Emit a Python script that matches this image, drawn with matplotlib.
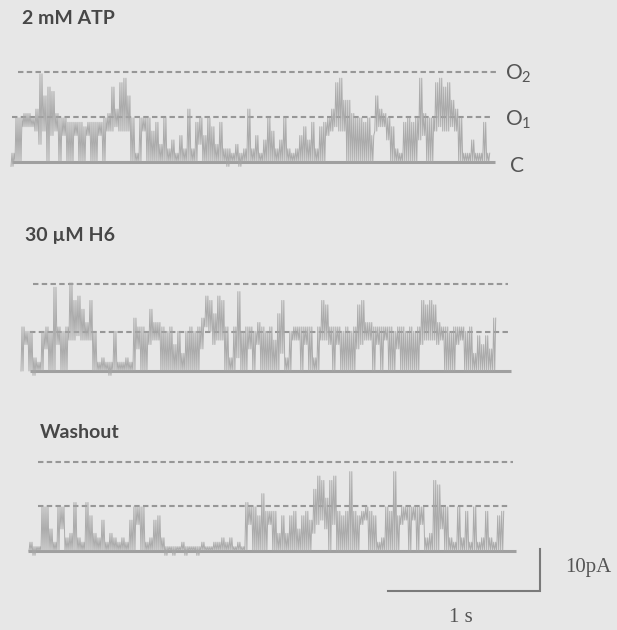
import numpy as np
import matplotlib
matplotlib.use("Agg")
import matplotlib.pyplot as plt

plt.rcParams['font.family'] = ['Lato', 'DejaVu Sans']

# Single-channel current, one value pair per 26 ms bin:
# lowest and highest excursion in tenths of the unitary opening (0 = closed C, 10 = O1, 20 = O2)
atp_lo = [-1, 0, 0, 8, 8, 8, 7, 4, 7, 0, 6, 7, 0, 6, 0, 0, 6, 0, 0, 6,
          0, 0, 6, 0, 7, 7, 8, 7, 7, 7, 0, 0, 0, 7, 0, 0, 0, 0, 0, 0,
          0, 0, 0, 0, 0, 0, 0, 4, 0, 0, 0, 0, 0, 0, -1, 0, 0, -1, 0, 0,
          0, 0, 0, 0, 0, 0, 0, 0, 0, 0, 0, 0, 0, 0, 0, 0, 0, 0, 0, 6,
          7, 8, 7, 7, 0, 0, 0, 0, 0, 0, 0, 7, 8, 8, 5, 0, 0, 0, 0, 0,
          0, 0, 5, 6, 0, 0, 7, 8, 7, 7, 8, 7, 0, 0, 0, 0, 0, 0, 0, 0]
atp_hi = [2, 10, 10, 11, 11, 10, 12, 20, 15, 17, 16, 11, 10, 10, 9, 9, 9, 9, 8, 9,
          9, 9, 9, 10, 11, 17, 12, 18, 19, 15, 10, 2, 10, 10, 10, 7, 9, 4, 10, 3,
          5, 2, 6, 3, 12, 3, 9, 10, 6, 10, 8, 4, 9, 3, 3, 2, 4, 2, 3, 12,
          3, 6, 2, 5, 10, 7, 3, 5, 10, 3, 2, 3, 6, 8, 5, 9, 3, 8, 9, 10,
          12, 18, 19, 14, 14, 11, 10, 10, 9, 10, 6, 15, 12, 11, 10, 8, 3, 2, 9, 10,
          9, 10, 19, 11, 10, 10, 18, 19, 17, 18, 14, 12, 10, 2, 2, 5, 2, 2, 9, 2]

h6_lo = [0, 6, 0, -1, 0, 0, 5, 0, 0, 6, 0, 0, 7, 7, 8, 7, 7, 7, 0, 0,
         0, 0, -1, 0, 0, 0, 0, 0, 0, 5, 0, 0, 6, 7, 7, 0, 0, 0, 0, 0,
         0, 0, 0, 0, 0, 5, 10, 9, 6, 7, 7, 0, 0, 0, 3, 0, 0, 5, 0, 6,
         0, 0, 0, 0, 0, 4, 0, 0, 7, 7, 0, 6, 0, 0, 0, 7, 7, 6, 0, 6,
         0, 0, 0, 0, 5, 6, 7, 7, 0, 6, 0, 7, 0, 0, 5, 0, 0, 0, 0, 0,
         6, 7, 7, 7, 6, 7, 0, 0, 0, 6, 7, 0, 0, 0, 0, 0, 0, 0, 0]
h6_hi = [10, 9, 9, 3, 2, 9, 10, 9, 19, 10, 9, 10, 20, 16, 17, 14, 11, 16, 9, 2,
         3, 2, 2, 9, 2, 2, 3, 2, 12, 10, 10, 9, 14, 11, 11, 10, 9, 10, 6, 9,
         4, 9, 10, 9, 10, 12, 17, 16, 13, 17, 16, 10, 3, 10, 18, 9, 10, 10, 9, 11,
         10, 9, 10, 7, 13, 16, 3, 9, 10, 10, 10, 10, 10, 3, 10, 16, 15, 10, 10, 10,
         9, 10, 9, 10, 15, 16, 11, 11, 10, 10, 10, 10, 10, 9, 10, 10, 9, 10, 9, 10,
         16, 15, 16, 15, 11, 10, 10, 9, 10, 10, 10, 9, 10, 4, 8, 6, 8, 5, 12]

wash_lo = [0, -1, 0, 0, 0, 0, 0, 0, 5, 0, 0, 0, 0, 0, 0, 0, 0, 0, 0, 0,
           0, 0, 0, 0, 0, 0, 0, 6, 0, 0, 0, 0, 0, 0, -1, 0, -1, 0, 0, -1,
           0, 0, -1, 0, 0, 0, 0, 0, 0, 0, 0, 0, 0, 0, 0, 6, 0, 0, 0, 0,
           6, 0, 0, 0, 0, 0, 0, 0, 0, 0, 0, 4, 6, 7, 5, 0, 6, 0, 0, 0,
           0, 0, 0, 6, 7, 0, 0, 0, 0, 0, 0, 0, 0, 6, 7, 0, 7, 0, 6, 0,
           0, 0, 0, 5, 0, 0, 0, 0, 0, 0, 0, 0, 0, 0, 0, 0, 0, 0, 0]
wash_hi = [2, 1, 1, 10, 10, 5, 2, 10, 10, 3, 4, 11, 3, 2, 11, 8, 4, 3, 7, 2,
           4, 3, 2, 3, 2, 7, 10, 10, 10, 2, 3, 7, 8, 3, 1, 1, 1, 1, 2, 1,
           1, 1, 1, 2, 1, 1, 2, 2, 3, 2, 3, 1, 2, 1, 11, 10, 10, 8, 13, 9,
           9, 9, 4, 8, 4, 8, 9, 5, 8, 9, 7, 14, 17, 16, 12, 16, 17, 9, 8, 9,
           18, 9, 8, 9, 10, 9, 8, 2, 3, 10, 9, 18, 8, 10, 10, 10, 10, 10, 10, 3,
           4, 16, 15, 10, 10, 3, 2, 10, 3, 9, 2, 10, 2, 3, 9, 3, 2, 8, 9]

titles = ["2 mM ATP", "30 \u00b5M H6", "Washout"]
o1_levels = [10.6, 9.4, 10.6]      # dashed O1 reference level, pA
o2_levels = [21.5, 20.6, 21.2]     # dashed O2 reference level, pA
state_labels = ["$\\mathregular{O_2}$", "$\\mathregular{O_1}$", "C"]

UNIT_PA = 10.5     # unitary current, pA
DT = 0.0263        # bin duration, s
SCALE_PA = 10      # vertical scale bar, pA
SCALE_S = 1        # horizontal scale bar, s

W, H = 617, 630
PX_PER_S = 152.0
PX_PER_PA = 4.2


def sx(px):
    return px / PX_PER_S


def sy(py):
    return (H - py) / PX_PER_PA


BG = '#e7e7e7'
TRACE = '#a5a5a5'
DASH = '#979797'
TEXT = '#474747'

fig = plt.figure(figsize=(W / 100, H / 100), dpi=100)
fig.patch.set_facecolor(BG)
ax = fig.add_axes([0, 0, 1, 1])
ax.set_facecolor(BG)
ax.set_xlim(0, W / PX_PER_S)
ax.set_ylim(0, H / PX_PER_PA)
ax.axis('off')

# panel layout: title position, closed-level row, trace start, dashed and baseline extents
panels = [
    dict(lo=atp_lo, hi=atp_hi, base=162, start=11, title=(22, 19),
         o2=(18, 497), o1=(12, 490), c=(12, 495)),
    dict(lo=h6_lo, hi=h6_hi, base=371, start=21, title=(25, 235),
         o2=(33, 508), o1=(30, 508), c=(30, 511)),
    dict(lo=wash_lo, hi=wash_hi, base=551, start=29, title=(40, 432),
         o2=(38, 513), o1=(38, 510), c=(28, 516)),
]

SUB = 4  # drawn vertices per bin, alternating low / high excursion

for i, p in enumerate(panels):
    y0 = sy(p['base'])
    lo = np.asarray(p['lo'], float) / 10 * UNIT_PA
    hi = np.asarray(p['hi'], float) / 10 * UNIT_PA
    t = sx(p['start']) + DT * np.arange(len(lo))
    tt = (t[:, None] + DT * np.arange(SUB)[None, :] / SUB).ravel()
    yy = np.where(np.arange(SUB)[None, :] % 2 == 0, lo[:, None], hi[:, None]).ravel()

    # closed level
    ax.plot([sx(p['c'][0]), sx(p['c'][1])], [y0, y0], color='#a0a0a0', lw=2.2,
            solid_capstyle='butt', zorder=2)
    # open levels
    ax.plot([sx(p['o1'][0]), sx(p['o1'][1])], [y0 + o1_levels[i]] * 2, color=DASH,
            lw=1.5, ls=(0, (2.6, 1.6)), zorder=3)
    ax.plot([sx(p['o2'][0]), sx(p['o2'][1])], [y0 + o2_levels[i]] * 2, color=DASH,
            lw=1.5, ls=(0, (2.6, 1.6)), zorder=3)
    # current trace
    ax.plot(tt, y0 + yy, color=TRACE, lw=0.7, alpha=0.9, zorder=4)

    ax.text(sx(p['title'][0]), sy(p['title'][1]), titles[i], fontsize=14,
            fontweight='bold', color=TEXT, ha='left', va='center')

# state labels on the first panel
y0 = sy(panels[0]['base'])
ax.text(sx(505), y0 + o2_levels[0] - 0.4, state_labels[0], fontsize=15, color='#555555',
        ha='left', va='center')
ax.text(sx(505), y0 + o1_levels[0] - 0.6, state_labels[1], fontsize=15, color='#555555',
        ha='left', va='center')
ax.text(sx(510), y0 - 1.0, state_labels[2], fontsize=15, color='#555555',
        ha='left', va='center')

# scale bars
bx, by = sx(540), sy(591)
ax.plot([bx - SCALE_S, bx, bx], [by, by, by + SCALE_PA], color='#7a7a7a', lw=1.5,
        solid_joinstyle='miter')
ax.text(sx(565), by + SCALE_PA / 2 + 0.5, f"{SCALE_PA}pA", fontsize=15,
        family='Liberation Serif', color='#555555', ha='left', va='center')
ax.text(bx - SCALE_S / 2 - sx(3), sy(617), f"{SCALE_S} s", fontsize=15,
        family='Liberation Serif', color='#555555', ha='center', va='center')

fig.savefig('out.png', dpi=100, facecolor=BG)
